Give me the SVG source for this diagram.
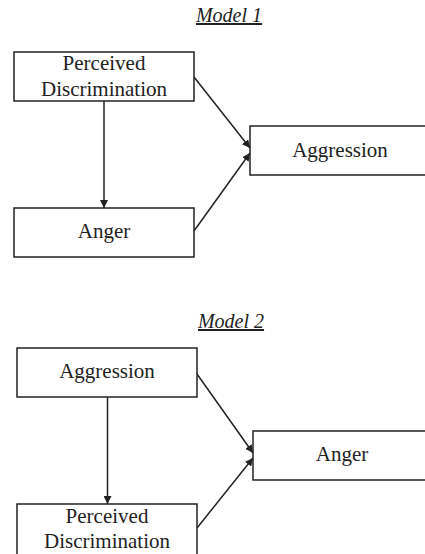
<svg xmlns="http://www.w3.org/2000/svg" width="425" height="554" viewBox="0 0 425 554">
<defs>
<style>
.box{fill:#fff;stroke:#222;stroke-width:1.5}
.t{font-family:"Liberation Serif","Times New Roman",serif;font-size:21px;fill:#222;text-anchor:middle}
.title{font-family:"Liberation Serif","Times New Roman",serif;font-size:20px;font-style:italic;fill:#222;text-anchor:middle;text-decoration:underline}
.c{stroke:#222;stroke-width:1.5;fill:none;marker-end:url(#ah)}
</style>
<marker id="ah" viewBox="0 0 10 10" refX="10" refY="5" markerWidth="8" markerHeight="8" markerUnits="userSpaceOnUse" orient="auto">
<path d="M0,0 L10,5 L0,10 z" fill="#222"/>
</marker>
</defs>
<rect width="425" height="554" fill="#fff"/>
<text class="title" x="229" y="22">Model 1</text>
<text class="title" x="231" y="328">Model 2</text>
<g id="connectors">
<line class="c" x1="104" y1="101" x2="104" y2="208"/>
<line class="c" x1="194" y1="77" x2="250" y2="148"/>
<line class="c" x1="194" y1="231" x2="250" y2="153"/>
<line class="c" x1="107.5" y1="397" x2="107.5" y2="504"/>
<line class="c" x1="197" y1="374" x2="253" y2="453"/>
<line class="c" x1="197" y1="528" x2="253" y2="458"/>
</g>
<g id="m1-pd">
<rect class="box" x="14" y="52" width="180" height="49"/>
<text class="t" x="104" y="70">Perceived</text>
<text class="t" x="104" y="96">Discrimination</text>
</g>
<g id="m1-aggression">
<rect class="box" x="250" y="126" width="190" height="49"/>
<text class="t" x="340" y="157">Aggression</text>
</g>
<g id="m1-anger">
<rect class="box" x="14" y="208" width="180" height="49"/>
<text class="t" x="104" y="238">Anger</text>
</g>
<g id="m2-aggression">
<rect class="box" x="17" y="348" width="180" height="49"/>
<text class="t" x="107" y="378">Aggression</text>
</g>
<g id="m2-anger">
<rect class="box" x="253" y="431" width="190" height="49"/>
<text class="t" x="342" y="461">Anger</text>
</g>
<g id="m2-pd">
<rect class="box" x="17" y="504" width="180" height="60"/>
<text class="t" x="107" y="523">Perceived</text>
<text class="t" x="107" y="548">Discrimination</text>
</g>
</svg>
